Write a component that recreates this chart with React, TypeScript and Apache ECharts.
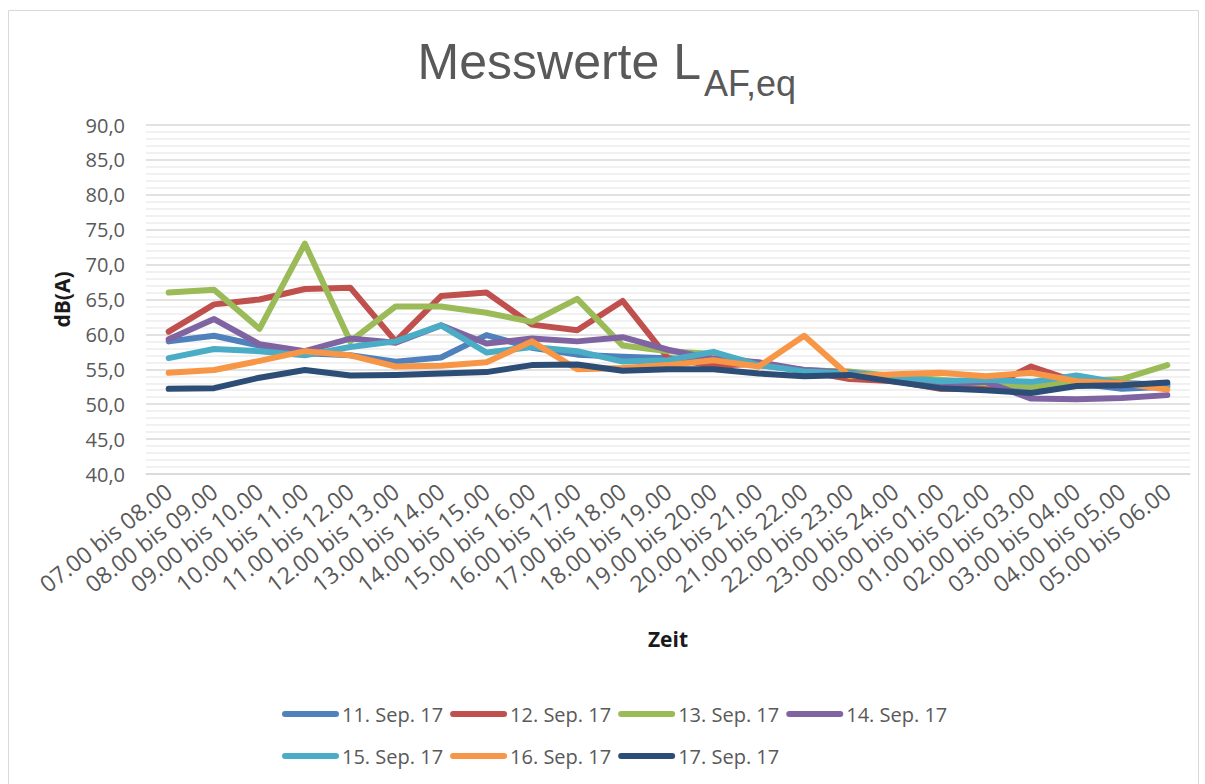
import React, { useEffect, useRef } from "react";
import * as echarts from "echarts";

const categories = [
  "07.00 bis 08.00", "08.00 bis 09.00", "09.00 bis 10.00", "10.00 bis 11.00",
  "11.00 bis 12.00", "12.00 bis 13.00", "13.00 bis 14.00", "14.00 bis 15.00",
  "15.00 bis 16.00", "16.00 bis 17.00", "17.00 bis 18.00", "18.00 bis 19.00",
  "19.00 bis 20.00", "20.00 bis 21.00", "21.00 bis 22.00", "22.00 bis 23.00",
  "23.00 bis 24.00", "00.00 bis 01.00", "01.00 bis 02.00", "02.00 bis 03.00",
  "03.00 bis 04.00", "04.00 bis 05.00", "05.00 bis 06.00",
];

const seriesNames = [
  "11. Sep. 17", "12. Sep. 17", "13. Sep. 17", "14. Sep. 17",
  "15. Sep. 17", "16. Sep. 17", "17. Sep. 17",
];

const sep11 = [59.0, 59.8, 58.4, 57.3, 57.0, 56.1, 56.7, 59.9, 58.1, 57.1, 56.8, 56.6, 56.3, 55.6, 54.9, 54.6, 53.8, 53.0, 52.6, 52.5, 53.0, 52.2, 52.5];
const sep12 = [60.4, 64.3, 65.0, 66.5, 66.7, 59.0, 65.5, 66.0, 61.4, 60.6, 64.8, 56.6, 55.5, 55.8, 54.8, 53.6, 53.3, 52.2, 52.2, 55.4, 53.2, 53.0, 52.8];
const sep13 = [66.0, 66.4, 60.8, 73.0, 59.0, 64.0, 64.0, 63.1, 61.8, 65.1, 58.4, 57.6, 57.2, 55.8, 54.8, 54.7, 54.0, 53.5, 53.0, 52.5, 53.3, 53.6, 55.6];
const sep14 = [59.3, 62.2, 58.6, 57.6, 59.4, 58.8, 61.3, 58.7, 59.4, 59.0, 59.6, 57.8, 56.5, 56.0, 54.9, 54.5, 53.8, 53.0, 53.2, 50.8, 50.7, 50.9, 51.3];
const sep15 = [56.6, 57.9, 57.6, 57.0, 58.2, 59.0, 61.3, 57.4, 58.2, 57.6, 56.1, 56.3, 57.5, 55.6, 54.7, 54.4, 54.0, 53.3, 53.5, 53.2, 54.1, 53.0, 52.8];
const sep16 = [54.5, 54.9, 56.2, 57.6, 57.0, 55.4, 55.5, 56.0, 59.0, 55.0, 55.2, 55.6, 56.3, 55.4, 59.8, 54.0, 54.3, 54.5, 54.0, 54.5, 53.3, 53.0, 52.1];
const sep17 = [52.2, 52.3, 53.8, 54.9, 54.1, 54.2, 54.4, 54.6, 55.6, 55.7, 54.8, 55.0, 55.0, 54.4, 54.0, 54.2, 53.2, 52.3, 52.0, 51.6, 52.6, 52.7, 53.1];

const allValues = [sep11, sep12, sep13, sep14, sep15, sep16, sep17];
const colors = ["#4F81BD", "#C0504D", "#9BBB59", "#8064A2", "#4BACC6", "#F79646", "#2C4D75"];

const yMin = 40;
const yMax = 90;
const yStep = 5;

const labelFont = '"Open Sans", "Liberation Sans", sans-serif';
const titleFont = '"Liberation Sans", Arial, sans-serif';

const legendIcon = "path://M3,0 L54,0 A3,3 0 0 1 54,6 L3,6 A3,3 0 0 1 3,0 Z";

export default function App() {
  const ref = useRef<HTMLDivElement>(null);

  useEffect(() => {
    if (!ref.current) return;
    const chart = echarts.init(ref.current, null, { renderer: "svg" });

    const legendCommon = {
      left: 277,
      orient: "horizontal",
      icon: legendIcon,
      itemWidth: 57,
      itemHeight: 7,
      itemGap: 7,
      itemStyle: { borderWidth: 0 },
      lineStyle: { width: 0 },
      textStyle: { fontSize: 20, color: "#595959", fontFamily: labelFont, padding: [0, 0, 0, -2] },
    };

    chart.setOption({
      animation: false,
      backgroundColor: "#ffffff",
      color: colors,
      graphic: [
        {
          type: "rect",
          silent: true,
          shape: { x: 8.5, y: 10.5, width: 1190, height: 790 },
          style: { fill: "none", stroke: "#d9d9d9", lineWidth: 1 },
        },
        {
          type: "text",
          x: 701,
          y: 62,
          style: {
            text: "Messwerte L",
            fontSize: 50,
            fontFamily: titleFont,
            fill: "#595959",
            align: "right",
            verticalAlign: "middle",
          },
        },
        {
          type: "text",
          x: 704,
          y: 83,
          style: {
            text: "AF,eq",
            fontSize: 36,
            fontFamily: titleFont,
            fill: "#595959",
            align: "left",
            verticalAlign: "middle",
          },
        },
      ],
      grid: { left: 146, right: 15, top: 125, bottom: 310, containLabel: false },
      legend: [
        { ...legendCommon, top: 699, data: seriesNames.slice(0, 4) },
        { ...legendCommon, top: 741, data: seriesNames.slice(4) },
      ],
      xAxis: {
        type: "category",
        data: categories,
        boundaryGap: true,
        axisLine: { lineStyle: { color: "#d9d9d9", width: 1.5 } },
        axisTick: { show: false },
        axisLabel: {
          interval: 0,
          rotate: 38,
          margin: 14,
          fontSize: 23,
          color: "#595959",
          fontFamily: labelFont,
        },
        name: "Zeit",
        nameLocation: "middle",
        nameGap: 154,
        nameTextStyle: { fontSize: 21, fontWeight: "bold", color: "#1a1a1a", fontFamily: labelFont, verticalAlign: "top" },
      },
      yAxis: {
        type: "value",
        min: yMin,
        max: yMax,
        interval: yStep,
        axisLine: { show: false },
        axisTick: { show: false },
        axisLabel: {
          margin: 21,
          fontSize: 20,
          color: "#595959",
          fontFamily: labelFont,
          formatter: (v: number) => v.toFixed(1).replace(".", ","),
        },
        splitLine: { lineStyle: { color: "#d9d9d9", width: 1.5 } },
        minorTick: { show: false, splitNumber: 5 },
        minorSplitLine: { show: true, lineStyle: { color: "#ededed", width: 1.5 } },
        name: "dB(A)",
        nameLocation: "middle",
        nameGap: 74,
        nameTextStyle: { fontSize: 21, fontWeight: "bold", color: "#1a1a1a", fontFamily: labelFont },
      },
      series: allValues.map((vals, i) => ({
        name: seriesNames[i],
        type: "line",
        data: vals,
        symbol: "none",
        lineStyle: { width: 6, color: colors[i], cap: "round", join: "round" },
        itemStyle: { color: colors[i] },
      })),
    });

    return () => chart.dispose();
  }, []);

  return (
    <div
      ref={ref}
      style={{ position: "fixed", left: 0, top: 0, width: 1205, height: 784, background: "#fff" }}
    />
  );
}
